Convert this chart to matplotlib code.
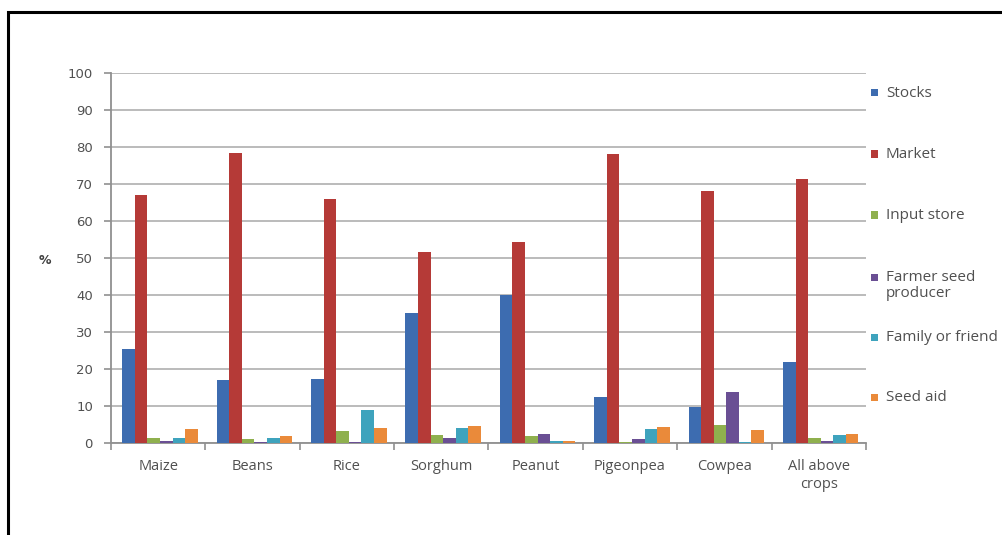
import matplotlib
matplotlib.use("Agg")
import matplotlib.pyplot as plt
from matplotlib.patches import Rectangle
import numpy as np

crops = ["Maize", "Beans", "Rice", "Sorghum", "Peanut", "Pigeonpea", "Cowpea", "All above\ncrops"]
sources = ["Stocks", "Market", "Input store", "Farmer seed\nproducer", "Family or friend", "Seed aid"]

stocks = [25.4, 16.8, 17.2, 35.0, 40.0, 12.2, 9.5, 21.9]
market = [66.9, 78.4, 66.0, 51.6, 54.3, 78.1, 68.2, 71.2]
input_store = [1.3, 0.9, 3.1, 2.1, 1.8, 0.1, 4.7, 1.2]
farmer_seed = [0.5, 0.1, 0.1, 1.3, 2.3, 1.0, 13.6, 0.3]
family_friend = [1.3, 1.1, 8.8, 3.8, 0.3, 3.7, 0.1, 2.0]
seed_aid = [3.6, 1.7, 3.8, 4.6, 0.3, 4.1, 3.3, 2.4]

series = [stocks, market, input_store, farmer_seed, family_friend, seed_aid]
colors = ["#3d6cb0", "#b53a37", "#8fb04e", "#6a4f94", "#3ea3bd", "#ea8a3a"]

y_ticks = list(range(0, 101, 10))

fig = plt.figure(figsize=(10.03, 5.35), dpi=100)
fig.patch.set_facecolor("white")

# outer frame (runs off the right and bottom edges)
frame = Rectangle((8 / 1003, -0.05), 1.2, 1 - 12 / 535 + 0.05, transform=fig.transFigure,
                  fill=False, edgecolor="black", linewidth=2.2, clip_on=False)
fig.patches.append(frame)

ax = fig.add_axes([111 / 1003, 1 - 442.5 / 535, (866 - 111) / 1003, (442.5 - 73) / 535])

n_groups = len(crops)
n_series = len(series)
width = 1 / 7.5
x = np.arange(n_groups) + 0.5
for k, (vals, col) in enumerate(zip(series, colors)):
    offs = (k - (n_series - 1) / 2) * width
    ax.bar(x + offs + 0.02, vals, width=width, color=col, edgecolor="none", zorder=3)

ax.set_xlim(0, n_groups)
ax.set_ylim(0, 100)
ax.set_yticks(y_ticks)
ax.set_yticklabels([str(v) for v in y_ticks], fontsize=9.5, color="#505050", family="DejaVu Sans")
ax.yaxis.grid(True, color="#b5b5b5", linewidth=1.3, zorder=0)
ax.set_axisbelow(True)

# category ticks sit at group boundaries, labels at centres
ax.set_xticks(np.arange(n_groups + 1))
ax.set_xticklabels([])
ax.set_xticks(x, minor=True)
ax.set_xticklabels(crops, minor=True, fontsize=10.5, color="#505050", family="Open Sans",
                   linespacing=1.25)
ax.tick_params(axis="x", which="minor", length=0, pad=12)
ax.tick_params(axis="x", which="major", length=5, color="#909090", width=1.2)
ax.tick_params(axis="y", length=5, color="#909090", width=1.2, pad=8)

for side in ["top", "right"]:
    ax.spines[side].set_visible(False)
for side in ["left", "bottom"]:
    ax.spines[side].set_color("#909090")
    ax.spines[side].set_linewidth(1.3)

fig.text(45 / 1003, 1 - 260 / 535, "%", fontsize=9, color="#404040", ha="center", va="center",
         fontweight="bold")

# legend drawn beside the plot area
legend_y = [93, 154, 215, 277, 337, 397]
for label, col, yy in zip(sources, colors, legend_y):
    sq = 7
    fig.patches.append(Rectangle((871 / 1003, 1 - (yy + sq / 2) / 535), sq / 1003, sq / 535,
                                 transform=fig.transFigure, facecolor=col, edgecolor="none"))
    fig.text(886 / 1003, 1 - (yy - 7) / 535, label, fontsize=11, color="#505050",
             family="Open Sans", ha="left", va="top", linespacing=1.05)

fig.savefig("out.png", dpi=100, facecolor="white")
